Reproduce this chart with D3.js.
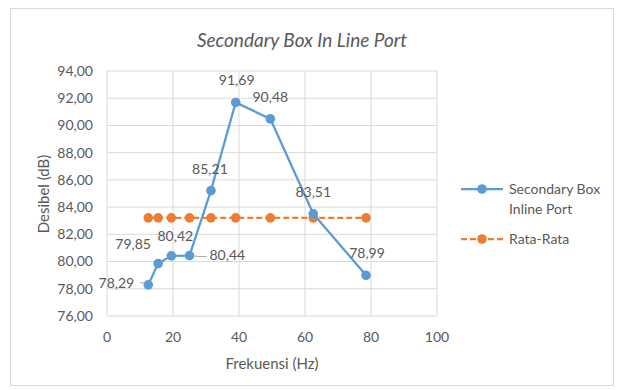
<!DOCTYPE html>
<html><head><meta charset="utf-8">
<script src="https://cdnjs.cloudflare.com/ajax/libs/d3/7.8.5/d3.min.js"></script>
<style>body{margin:0;background:#fff}svg{display:block}text{font-family:Lato,"Open Sans",sans-serif}</style>
</head><body><svg id="c" width="619" height="390"></svg>
<script>
const freqs = [12.5, 15.5, 19.5, 25, 31.5, 39, 49.5, 62.5, 78.5];
const levels = [78.29, 79.85, 80.42, 80.44, 85.21, 91.69, 90.48, 83.51, 78.99];
const avgValue = 83.21;
const averages = freqs.map(() => avgValue);
const xTicks = [0, 20, 40, 60, 80, 100];
const yTicks = [76, 78, 80, 82, 84, 86, 88, 90, 92, 94];
const seriesNames = ["Secondary Box Inline Port", "Rata-Rata"];

const svg = d3.select("#c");
const blue = "#5B9BD5", orange = "#ED7D31", grid = "#D9D9D9", txt = "#595959";
svg.append("rect").attr("x",10.5).attr("y",8.5).attr("width",603).attr("height",377).attr("fill","#fff").attr("stroke","#D9D9D9");

const x = d3.scaleLinear().domain([0,100]).range([107,437]);
const y = d3.scaleLinear().domain([76,94]).range([316,71]);
const fmt = v => d3.format(".2f")(v).replace(".", ",");

svg.append("g").selectAll("line").data(yTicks).join("line")
  .attr("x1",x(0)).attr("x2",x(100)).attr("y1",d=>y(d)).attr("y2",d=>y(d)).attr("stroke",grid);
svg.append("g").selectAll("line").data(xTicks).join("line")
  .attr("y1",y(76)).attr("y2",y(94)).attr("x1",d=>x(d)).attr("x2",d=>x(d)).attr("stroke",grid);

svg.append("g").selectAll("text").data(yTicks).join("text")
  .attr("x",93).attr("y",d=>y(d)).attr("dy","0.35em").attr("text-anchor","end")
  .attr("font-size",14).attr("fill",txt).text(fmt);
svg.append("g").selectAll("text").data(xTicks).join("text")
  .attr("x",d=>x(d)).attr("y",337).attr("dy","0.35em").attr("text-anchor","middle")
  .attr("font-size",14).attr("fill",txt).text(d=>d);

svg.append("text").attr("x",302).attr("y",40).attr("dy","0.35em").attr("text-anchor","middle")
  .attr("font-size",19).attr("font-style","italic").attr("fill",txt).text("Secondary Box In Line Port");
svg.append("text").attr("transform","translate(44,194) rotate(-90)").attr("dy","0.35em").attr("text-anchor","middle")
  .attr("font-size",15).attr("fill",txt).text("Desibel (dB)");
svg.append("text").attr("x",272).attr("y",364).attr("dy","0.35em").attr("text-anchor","middle")
  .attr("font-size",15).attr("fill",txt).text("Frekuensi (Hz)");

const line = d3.line().x(d=>x(d[0])).y(d=>y(d[1]));
const avgData = freqs.map((f,i)=>[f,averages[i]]);
const data = freqs.map((f,i)=>[f,levels[i]]);
svg.append("path").datum(avgData).attr("d",line).attr("fill","none").attr("stroke",orange).attr("stroke-width",2.25).attr("stroke-dasharray","6,3");
svg.append("g").selectAll("circle").data(avgData).join("circle").attr("cx",d=>x(d[0])).attr("cy",d=>y(d[1])).attr("r",4.8).attr("fill",orange);
svg.append("path").datum(data).attr("d",line).attr("fill","none").attr("stroke",blue).attr("stroke-width",2.25);
svg.append("g").selectAll("circle").data(data).join("circle").attr("cx",d=>x(d[0])).attr("cy",d=>y(d[1])).attr("r",4.8).attr("fill",blue);

const labelPos = [[-14,-2,"end"],[-25,-19,"middle"],[4,-20,"middle"],[20,0,"start"],[-1,-22,"middle"],[1,-22,"middle"],[0,-22,"middle"],[0,-22,"middle"],[1,-22,"middle"]];
const lg = svg.append("g");
data.forEach((d,i)=>{
  const [dx,dy,a] = labelPos[i];
  lg.append("text").attr("x",x(d[0])+dx).attr("y",y(d[1])+dy).attr("dy","0.35em").attr("text-anchor",a)
    .attr("font-size",14).attr("fill",txt).text(fmt(levels[i]));
});
lg.append("line").attr("x1",x(freqs[0])-8).attr("x2",x(freqs[0])-2).attr("y1",y(levels[0])-2).attr("y2",y(levels[0])-2).attr("stroke","#A6A6A6");
lg.append("path").attr("d",`M${x(freqs[3])+3},${y(levels[3])}L${x(freqs[3])+9},${y(levels[3])+1}L${x(freqs[3])+17},${y(levels[3])+1}`).attr("fill","none").attr("stroke","#A6A6A6");

const leg = svg.append("g");
leg.append("line").attr("x1",461).attr("x2",503).attr("y1",189).attr("y2",189).attr("stroke",blue).attr("stroke-width",2.25);
leg.append("circle").attr("cx",482).attr("cy",189).attr("r",4.8).attr("fill",blue);
leg.append("text").attr("x",509).attr("y",189).attr("dy","0.35em").attr("font-size",14).attr("fill",txt).text("Secondary Box");
leg.append("text").attr("x",509).attr("y",209).attr("dy","0.35em").attr("font-size",14).attr("fill",txt).text("Inline Port");
leg.append("line").attr("x1",461).attr("x2",503).attr("y1",239).attr("y2",239).attr("stroke",orange).attr("stroke-width",2.25).attr("stroke-dasharray","6,3");
leg.append("circle").attr("cx",482).attr("cy",239).attr("r",4.8).attr("fill",orange);
leg.append("text").attr("x",509).attr("y",239).attr("dy","0.35em").attr("font-size",14).attr("fill",txt).text(seriesNames[1]);
</script></body></html>
